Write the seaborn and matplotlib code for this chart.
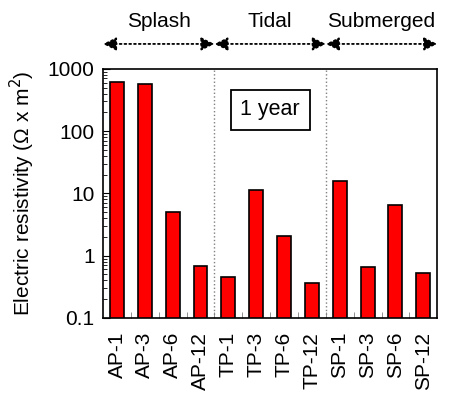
import numpy as np
import pandas as pd
import matplotlib
matplotlib.use('Agg')
import matplotlib.pyplot as plt
import seaborn as sns

# values (log scale)
samples = ['AP-1', 'AP-3', 'AP-6', 'AP-12',
           'TP-1', 'TP-3', 'TP-6', 'TP-12',
           'SP-1', 'SP-3', 'SP-6', 'SP-12']
resistivity = [610, 580, 5.1, 0.69,
               0.45, 11.2, 2.05, 0.36,
               16, 0.65, 6.4, 0.52]
zones = ['Splash', 'Tidal', 'Submerged']

sns.set_style('ticks')
plt.rcParams['font.family'] = ['Liberation Sans', 'DejaVu Sans']
plt.rcParams['text.color'] = 'black'
plt.rcParams['axes.labelcolor'] = 'black'
plt.rcParams['xtick.color'] = 'black'
plt.rcParams['ytick.color'] = 'black'
plt.rcParams['axes.edgecolor'] = 'black'

df = pd.DataFrame({'sample': samples, 'value': resistivity})

fig = plt.figure(figsize=(4.54, 4.05), dpi=100)
ax = fig.add_axes([0.227, 0.215, 0.736, 0.615])

sns.barplot(data=df, x='sample', y='value', color='red', saturation=1,
            edgecolor='black', linewidth=1.2, width=0.5, ax=ax)
ax.set_yscale('log')
ax.set_ylim(0.1, 1000)
ax.set_xlim(-0.5, len(samples) - 0.5)

ax.set_xlabel('')
ax.set_ylabel('Electric resistivity (\u03a9 x m$^2$)', fontsize=15, labelpad=8)
ax.set_yticks([0.1, 1, 10, 100, 1000])
ax.set_yticklabels(['0.1', '1', '10', '100', '1000'], fontsize=15)
ax.tick_params(axis='y', which='both', direction='in', left=True, right=False, pad=6)
ax.tick_params(axis='y', which='major', length=5)
ax.tick_params(axis='y', which='minor', length=3)
ax.tick_params(axis='x', which='major', length=0, rotation=90, labelsize=15, pad=10)
ax.set_xticks(np.arange(len(samples)))
ax.set_xticklabels(samples)
ax.set_xticks(np.arange(len(samples) - 1) + 0.5, minor=True)
ax.tick_params(axis='x', which='minor', direction='in', length=4, color='gray')
for s in ax.spines.values():
    s.set_linewidth(1.2)

# zone separators
for xb in [3.5, 7.5]:
    ax.axvline(xb, color='gray', linestyle=':', linewidth=1)

# zone arrows and labels
for i, z in enumerate(zones):
    x0, x1 = i * 4 - 0.5, i * 4 + 3.5
    ax.annotate('', xy=(x0, 1.10), xytext=(x1, 1.10),
                xycoords=('data', 'axes fraction'),
                textcoords=('data', 'axes fraction'),
                arrowprops=dict(arrowstyle='<|-|>', color='black',
                                linestyle=':', lw=1.3, shrinkA=0, shrinkB=0,
                                mutation_scale=20))
    ax.text((x0 + x1) / 2, 1.19, z, transform=ax.get_xaxis_transform(),
            ha='center', va='center', fontsize=15)

ax.text(5.5, 0.835, '1 year', transform=ax.get_xaxis_transform(),
        ha='center', va='center', fontsize=15.5,
        bbox=dict(boxstyle='square,pad=0.45', facecolor='white',
                  edgecolor='black', linewidth=1.3))

fig.savefig('out.png', dpi=100)
